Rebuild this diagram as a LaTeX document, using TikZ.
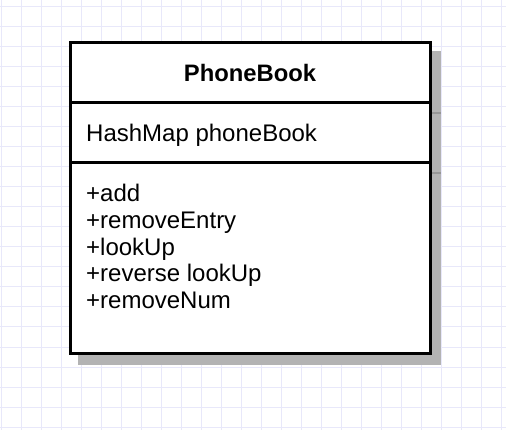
\documentclass[tikz,border=0pt]{standalone}
\usepackage{fontspec}
\setmainfont{Liberation Sans}
\definecolor{gridline}{RGB}{232,232,250}
\definecolor{shadowgray}{RGB}{179,179,179}
\definecolor{shadowline}{RGB}{150,150,150}
\tikzset{
  compartment/.style={draw=black, line width=3pt, fill=white, minimum width=360pt,
    inner sep=0pt, outer sep=0pt, anchor=north west},
  member/.style={anchor=base west, inner sep=0pt, font=\fontsize{24}{27}\selectfont},
}
\begin{document}
\begin{tikzpicture}[x=1pt,y=-1pt]
\useasboundingbox (0,0) rectangle (506,430);
\fill[white] (0,0) rectangle (506,430);
% grid
\foreach \gx in {1,21,...,501}
  \draw[gridline, line width=1pt] (\gx,0) -- (\gx,430);
\foreach \gy in {7,27,...,427}
  \draw[gridline, line width=1pt] (0,\gy) -- (506,\gy);
% shadow
\fill[shadowgray] (77.5,51.5) rectangle (440.5,364.5);
\draw[shadowline, line width=1.5pt] (431,113) -- (440.5,113);
\draw[shadowline, line width=1.5pt] (431,173) -- (440.5,173);
% class box
\node[compartment, minimum height=60pt] (title) at (70,43)
  {\fontsize{23.8}{27}\selectfont\bfseries PhoneBook};
\node[compartment, minimum height=60pt] (attrs) at (70,103) {};
\node[compartment, minimum height=190pt] (methods) at (70,163) {};
\node[member] (field) at (86,141.7) {HashMap phoneBook};
\foreach \m [count=\i] in {+add, +removeEntry, +lookUp, +reverse lookUp, +removeNum}
  \node[member] (m\i) at (86,175+26.67*\i) {\m};
\end{tikzpicture}
\end{document}
